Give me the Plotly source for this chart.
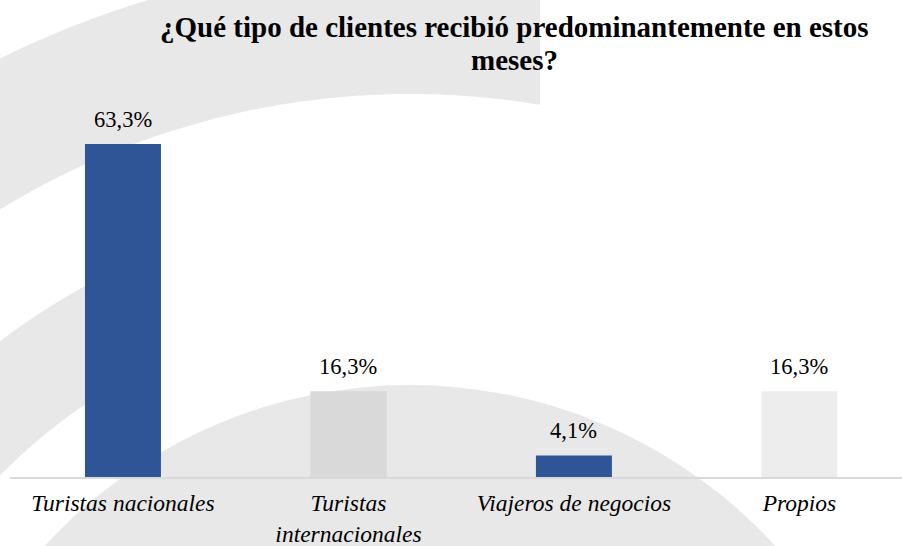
import numpy as np
import plotly.graph_objects as go

# Data
categorias = ["Turistas nacionales", "Turistas<br>internacionales", "Viajeros de negocios", "Propios"]
valores = [63.3, 16.3, 4.1, 16.3]
colores = ["#2F5597", "#D9D9D9", "#2F5597", "#EDEDED"]
etiquetas = [f"{v:.1f}%".replace(".", ",") for v in valores]

titulo = ["¿Qué tipo de clientes recibió predominantemente en estos", "meses?"]

SERIF = "Times New Roman, Liberation Serif, DejaVu Serif, serif"

# geometry in screen pixels
W, H = 902, 546
ML, MR, MT, MB = 10, 0, 108, 69
PW, PH = W - ML - MR, H - MT - MB
PX_PER_UNIT = 5.26


def to_paper(px, py):
    return (px - ML) / PW, (H - MB - py) / PH


def path_from(points):
    pts = [to_paper(x, y) for x, y in points]
    return "M " + " L ".join(f"{x:.4f},{y:.4f}" for x, y in pts) + " Z"


def arc(cx, cy, r, x_from, x_to, n=80):
    xs = np.linspace(x_from, x_to, n)
    ys = cy - np.sqrt(r ** 2 - (xs - cx) ** 2)
    return list(zip(xs, ys))


# background watermark (concentric arcs)
CX, CY = 410, 880
gris = "#E8E8E8"
banda_sup = arc(CX, CY, 918, -20, 540) + arc(CX, CY, 786, 540, -20)
banda_med = arc(CX, CY, 677, -20, 125) + arc(CX, CY, 576, 125, -20)
x0, y0 = to_paper(CX - 495, CY - 495)
x1, y1 = to_paper(CX + 495, CY + 495)

shapes = [
    dict(type="path", path=path_from(banda_sup), xref="paper", yref="paper",
         fillcolor=gris, line=dict(width=0), layer="below"),
    dict(type="path", path=path_from(banda_med), xref="paper", yref="paper",
         fillcolor=gris, line=dict(width=0), layer="below"),
    dict(type="circle", x0=x0, y0=y1, x1=x1, y1=y0, xref="paper", yref="paper",
         fillcolor=gris, line=dict(width=0), layer="below"),
]

fig = go.Figure()

fig.add_trace(go.Bar(
    x=categorias,
    y=valores,
    marker=dict(color=colores, line=dict(width=0)),
    width=0.337,
    hoverinfo="skip",
))

# value labels above the bars
annotations = [
    dict(x=c, y=v, text=t, showarrow=False, yanchor="bottom", yshift=10,
         font=dict(family=SERIF, size=22.5, color="#000000"))
    for c, v, t in zip(categorias, valores, etiquetas)
]

# title, two lines with tight spacing
for linea, py in zip(titulo, [27, 60]):
    tx, ty = to_paper(514, py)
    annotations.append(dict(
        x=tx, y=ty, xref="paper", yref="paper", text=linea, showarrow=False,
        xanchor="center", yanchor="middle",
        font=dict(family=SERIF, size=29, color="#000000", weight="bold"),
    ))

fig.update_layout(
    width=W,
    height=H,
    margin=dict(l=ML, r=MR, t=MT, b=MB, autoexpand=False),
    paper_bgcolor="#FFFFFF",
    plot_bgcolor="rgba(0,0,0,0)",
    showlegend=False,
    shapes=shapes,
    annotations=annotations,
    xaxis=dict(
        range=[-0.501, 3.455],
        showline=True,
        linecolor="#D9D9D9",
        linewidth=2,
        showgrid=False,
        ticks="",
        ticklabelstandoff=4,
        tickfont=dict(family=SERIF, size=23.5, color="#000000", style="italic"),
    ),
    yaxis=dict(
        range=[0, PH / PX_PER_UNIT],
        visible=False,
        showgrid=False,
        zeroline=False,
    ),
)

fig.write_html(
    "out.html",
    config={"displayModeBar": False},
    post_script="document.body.style.margin = '0px';",
)
